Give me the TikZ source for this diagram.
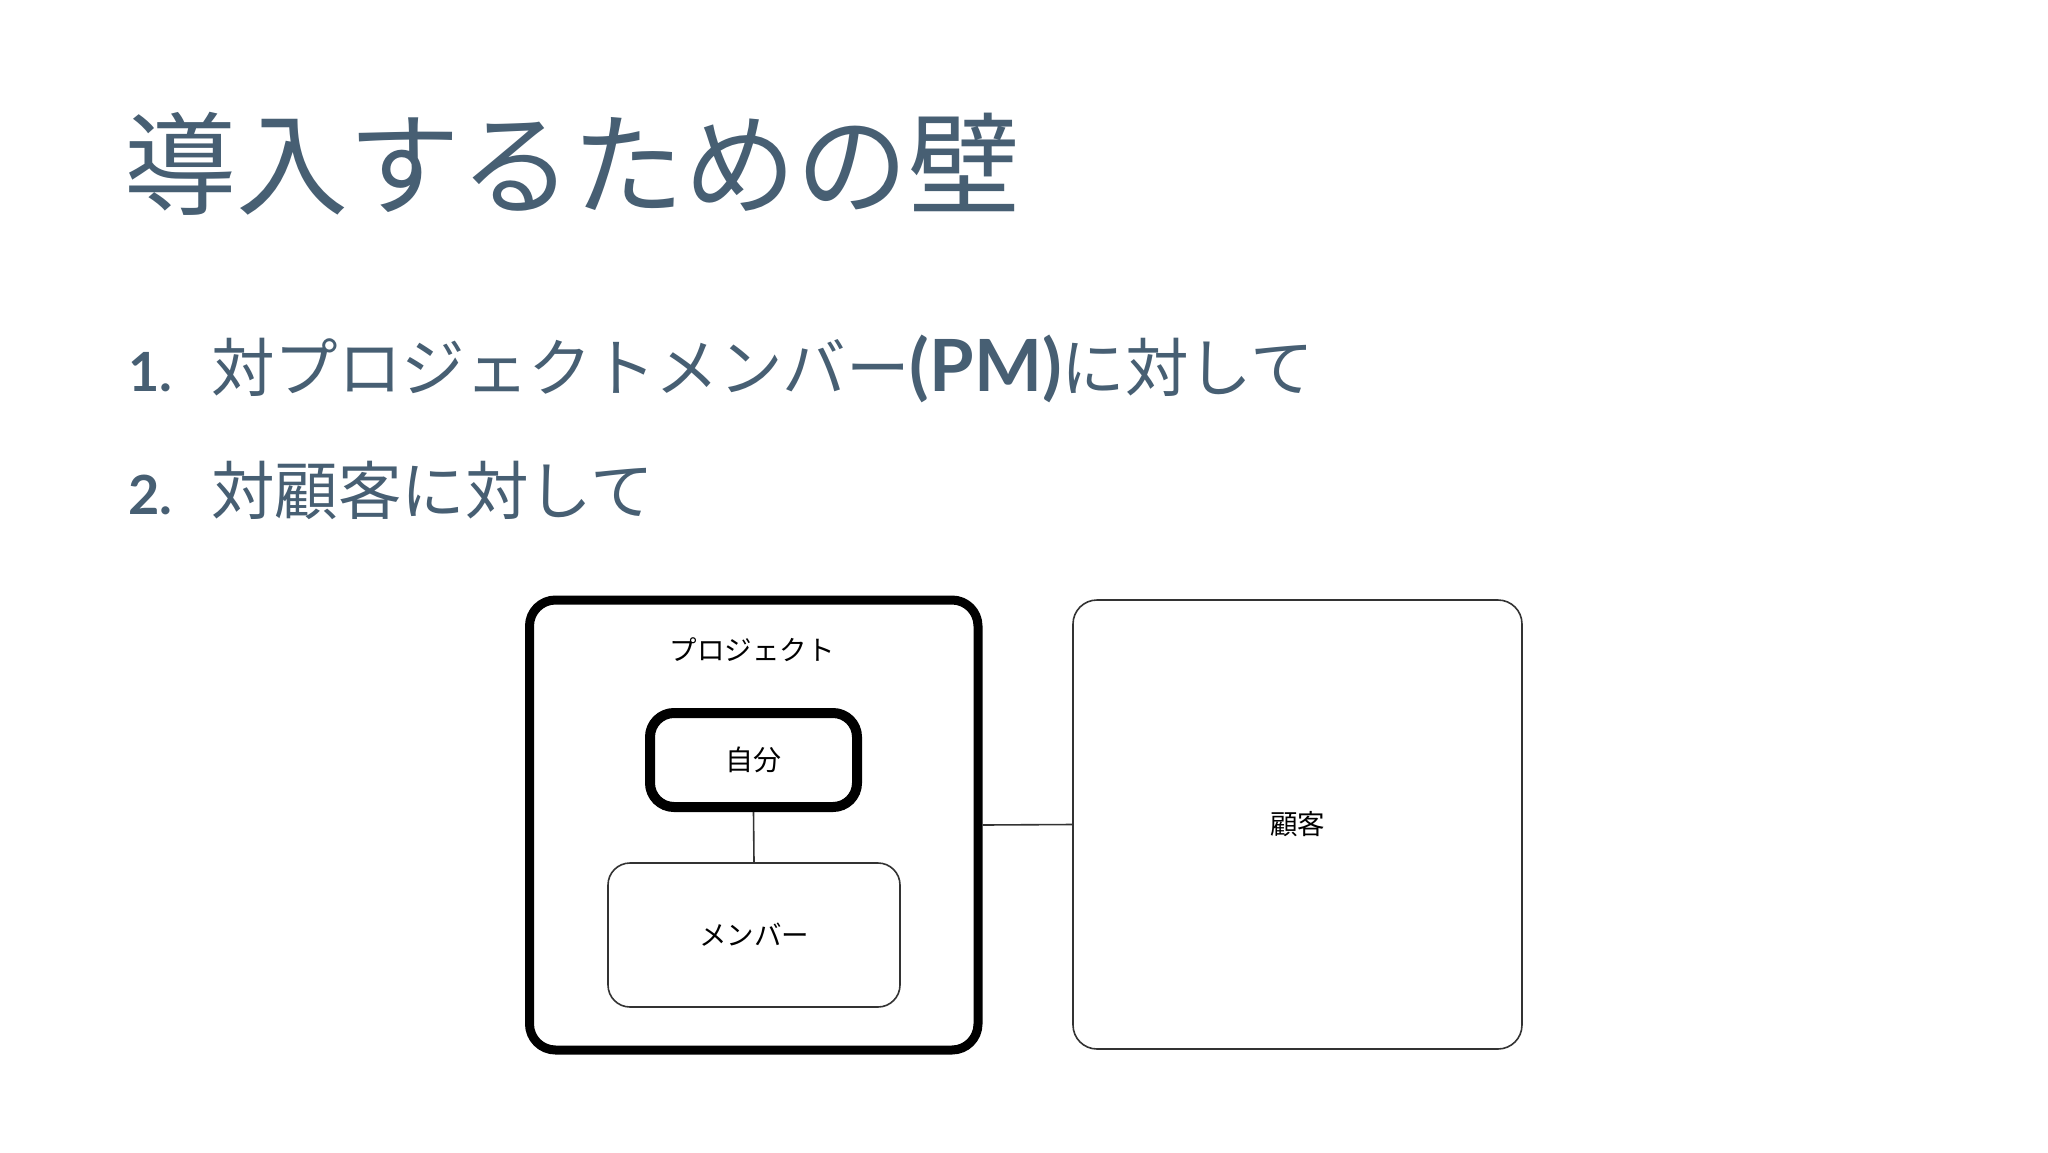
\documentclass[tikz,border=0pt]{standalone}
\usepackage{fontspec}
\setmainfont{Noto Sans CJK JP}
\newfontfamily\jpfont{Noto Sans CJK JP}
\newfontfamily\numfont{Lato}
\definecolor{slate}{HTML}{475F73}
\definecolor{boxgray}{HTML}{333333}
\begin{document}
\begin{tikzpicture}[x=1pt,y=-1pt,
  title/.style={font=\jpfont\fontsize{112}{120}\selectfont, text=slate, inner sep=0pt, anchor=base west},
  item/.style={font=\jpfont\fontsize{63.5}{70}\selectfont, text=slate, inner sep=0pt, anchor=base west},
  num/.style={font=\numfont\bfseries\fontsize{54}{60}\selectfont, text=slate, inner sep=0pt, anchor=base west},
  thickbox/.style={draw=black, line width=9pt, rounded corners=26pt, inner sep=0pt,
    font=\jpfont\fontsize{28}{32}\selectfont},
  thinbox/.style={draw=boxgray, line width=1.6pt, rounded corners=24pt, inner sep=0pt,
    font=\jpfont\fontsize{27.5}{32}\selectfont},
  lbl/.style={font=\jpfont\fontsize{27.5}{32}\selectfont, text=black, inner sep=0pt},
  conn/.style={draw=boxgray, line width=1.6pt}
]
\useasboundingbox[fill=white] (0,0) rectangle (2048,1152);

\node[title] (title) at (124,206) {導入するための壁};

\node[num] (n1) at (128,391) {1.};
\node[item] (t1) at (211,391) {対プロジェクトメンバー{\numfont\bfseries\fontsize{72}{80}\selectfont(PM)}に対して};
\node[num] (n2) at (128,514) {2.};
\node[item] (t2) at (211,514) {対顧客に対して};

\node[thickbox, minimum width=448.5pt, minimum height=450pt] (proj) at (753.75,825) {};
\node[lbl] (projlbl) at (752,650) {プロジェクト};
\node[thickbox, line width=10pt, rounded corners=24pt, minimum width=207pt, minimum height=94pt] (self) at (753.5,760) {自分};
\node[thinbox, minimum width=292pt, minimum height=144pt, rounded corners=22pt] (member) at (754,935) {メンバー};
\node[thinbox, minimum width=449pt, minimum height=449pt] (cust) at (1297.5,824.5) {顧客};

\draw[conn] (self.south) -- (member.north);
\draw[conn] (proj.east) -- (cust.west);
\end{tikzpicture}
\end{document}
